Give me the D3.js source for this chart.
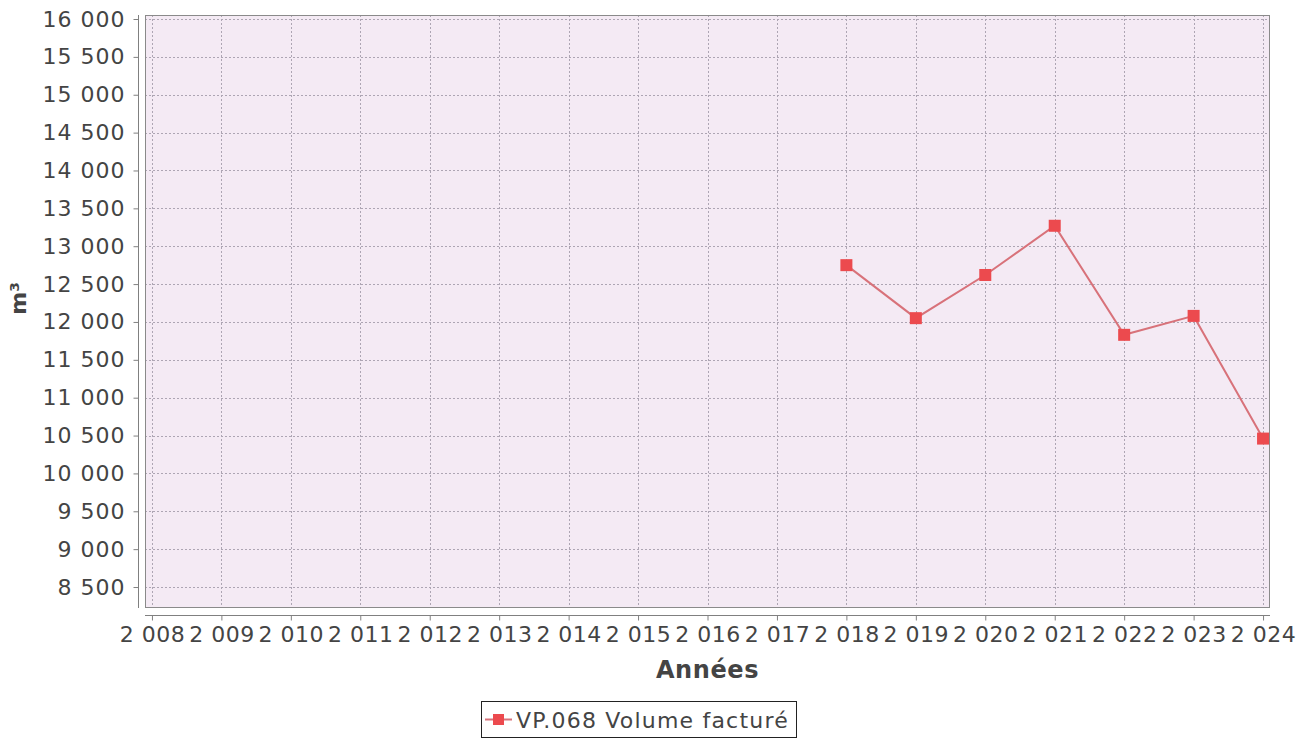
<!DOCTYPE html>
<html>
<head>
<meta charset="utf-8">
<script src="https://cdn.jsdelivr.net/npm/d3@7"></script>
<style>
  html, body { margin: 0; padding: 0; background: #ffffff; }
  svg { display: block; }
  text { font-family: "DejaVu Sans", sans-serif; }
</style>
</head>
<body>
<svg id="chart" width="1311" height="740"></svg>
<script>
// ---- data ----
const years = [2018, 2019, 2020, 2021, 2022, 2023, 2024];
const volumes = [12750, 12050, 12620, 13270, 11830, 12080, 10460];
const xTicks = [2008, 2009, 2010, 2011, 2012, 2013, 2014, 2015, 2016, 2017, 2018, 2019, 2020, 2021, 2022, 2023, 2024];
const yTicks = [8500, 9000, 9500, 10000, 10500, 11000, 11500, 12000, 12500, 13000, 13500, 14000, 14500, 15000, 15500, 16000];
const xDomain = [2007.9, 2024.1];
const yDomain = [8223, 16053];
const seriesName = "VP.068 Volume facturé";
const xTitle = "Années";
const yTitle = "m³";

// ---- layout ----
const plot = { left: 145, right: 1270, top: 15, bottom: 608 };
const svg = d3.select("#chart");

const loc = d3.formatLocale({ decimal: ",", thousands: "\u00a0", grouping: [3], currency: ["", ""] });
const fmt = loc.format(",d");

const x = d3.scaleLinear().domain(xDomain).range([plot.left, plot.right]);
const y = d3.scaleLinear().domain(yDomain).range([plot.bottom, plot.top]);

// plot background
svg.append("rect")
  .attr("x", plot.left).attr("y", plot.top)
  .attr("width", plot.right - plot.left).attr("height", plot.bottom - plot.top)
  .attr("fill", "#f4eaf4");

// gridlines
const grid = svg.append("g").attr("stroke", "#ada5b3").attr("stroke-width", 1).attr("stroke-dasharray", "2,2");
grid.selectAll("line.h").data(yTicks).join("line")
  .attr("x1", plot.left).attr("x2", plot.right)
  .attr("y1", d => Math.round(y(d)) + 0.5).attr("y2", d => Math.round(y(d)) + 0.5);
grid.selectAll("line.v").data(xTicks).join("line")
  .attr("y1", plot.top).attr("y2", plot.bottom)
  .attr("x1", d => Math.round(x(d)) + 0.5).attr("x2", d => Math.round(x(d)) + 0.5);

// plot outline
svg.append("rect")
  .attr("x", plot.left + 0.5).attr("y", plot.top + 0.5)
  .attr("width", plot.right - plot.left - 1).attr("height", plot.bottom - plot.top - 1)
  .attr("fill", "none").attr("stroke", "#8a8a8a").attr("stroke-width", 1);

// y axis
const yAxis = d3.axisLeft(y).tickValues(yTicks).tickFormat(fmt).tickSize(5).tickPadding(8);
const gy = svg.append("g").attr("transform", `translate(${plot.left - 6.5},0)`).call(yAxis);
gy.select(".domain").attr("stroke", "#808080").attr("d", `M0,${plot.top}V${plot.bottom}`);
gy.selectAll(".tick line").attr("stroke", "#808080");
gy.selectAll(".tick text").attr("font-size", 22).attr("letter-spacing", 1).attr("fill", "#444").attr("font-family", "DejaVu Sans");

// x axis
const xAxis = d3.axisBottom(x).tickValues(xTicks).tickFormat(fmt).tickSize(5).tickPadding(6);
const gx = svg.append("g").attr("transform", `translate(0,${plot.bottom + 7.5})`).call(xAxis);
gx.select(".domain").attr("stroke", "#808080").attr("d", `M${plot.left},0H${plot.right}`);
gx.selectAll(".tick line").attr("stroke", "#808080");
gx.selectAll(".tick text").attr("font-size", 22).attr("letter-spacing", 0.5).attr("fill", "#444").attr("font-family", "DejaVu Sans");

// axis titles
svg.append("text")
  .attr("x", (plot.left + plot.right) / 2).attr("y", 678)
  .attr("text-anchor", "middle").attr("font-size", 24).attr("letter-spacing", 0.6).attr("font-weight", "bold").attr("fill", "#444")
  .text(xTitle);
svg.append("text")
  .attr("transform", `translate(26,${(plot.top + plot.bottom) / 2 - 13}) rotate(-90)`)
  .attr("text-anchor", "middle").attr("font-size", 22).attr("font-weight", "bold").attr("fill", "#444")
  .text(yTitle);

// series
const data = years.map((yr, i) => ({ yr, v: volumes[i] }));
svg.append("path")
  .datum(data)
  .attr("fill", "none").attr("stroke", "#d8727a").attr("stroke-width", 2)
  .attr("d", d3.line().x(d => x(d.yr)).y(d => y(d.v)));
svg.selectAll("rect.pt").data(data).join("rect")
  .attr("class", "pt")
  .attr("x", d => x(d.yr) - 6).attr("y", d => y(d.v) - 6)
  .attr("width", 12).attr("height", 12)
  .attr("fill", "#ec4a4e");

// legend
const lg = svg.append("g");
lg.append("rect").attr("x", 481.5).attr("y", 701.5).attr("width", 315).attr("height", 36)
  .attr("fill", "#ffffff").attr("stroke", "#222").attr("stroke-width", 1);
lg.append("line").attr("x1", 485).attr("x2", 512).attr("y1", 719.5).attr("y2", 719.5)
  .attr("stroke", "#d8727a").attr("stroke-width", 2);
lg.append("rect").attr("x", 493).attr("y", 714).attr("width", 11).attr("height", 11).attr("fill", "#ec4a4e");
lg.append("text").attr("x", 516).attr("y", 728).attr("font-size", 22).attr("letter-spacing", 1.2).attr("fill", "#444").text(seriesName);
</script>
</body>
</html>
